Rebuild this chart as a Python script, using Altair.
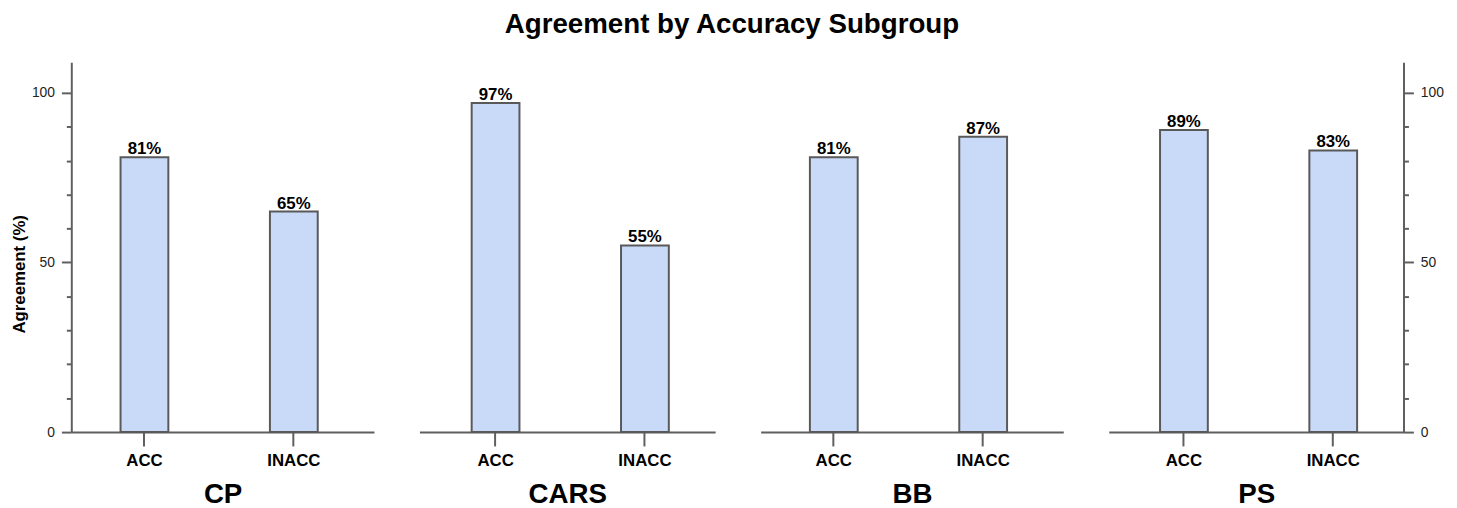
import altair as alt
import pandas as pd

# ---- data ----
groups = ["CP", "CARS", "BB", "PS"]
subgroups = ["ACC", "INACC"]
acc_values = [81, 97, 81, 89]
inacc_values = [65, 55, 87, 83]

rows = []
for g, a, b in zip(groups, acc_values, inacc_values):
    rows.append({"group": g, "sub": "ACC", "value": a, "label": f"{a}%"})
    rows.append({"group": g, "sub": "INACC", "value": b, "label": f"{b}%"})
df = pd.DataFrame(rows)

FONT = "Liberation Sans"
AXIS_COLOR = "#5f5f5f"
BAR_FILL = "#c9daf8"
PLOT_H = 374
Y_MAX = 109

# per-panel layout: width, paddingOuter, align
layout = [
    (306, 0.353, 0.467),
    (299, 0.330, 0.530),
    (306, 0.353, 0.467),
    (298, 0.327, 0.525),
]


def y_axis(kind):
    if kind == "none":
        return alt.Axis(domain=False, ticks=False, labels=False, title="", grid=False)
    return alt.Axis(
        orient=kind,
        title="Agreement (%)" if kind == "left" else "",
        titleFontSize=17,
        titleFontWeight="bold",
        titleColor="black",
        titleFont=FONT,
        titlePadding=3,
        titleY=214,
        values=list(range(0, 101, 10)),
        labelExpr="datum.value % 50 === 0 ? datum.label : ''",
        labelFontSize=14,
        labelFont=FONT,
        labelColor="#222222",
        labelPadding=7,
        tickSize={"condition": {"test": "datum.value % 50 === 0", "value": 10}, "value": 5},
        tickColor=AXIS_COLOR,
        tickWidth=2,
        domainColor=AXIS_COLOR,
        domainWidth=2,
        grid=False,
    )


panels = []
for i, g in enumerate(groups):
    w, po, al = layout[i]
    kind = "left" if i == 0 else ("right" if i == len(groups) - 1 else "none")
    base = alt.Chart(df[df["group"] == g])
    x = alt.X(
        "sub:N",
        sort=subgroups,
        scale=alt.Scale(paddingInner=0.68, paddingOuter=po, align=al),
        axis=alt.Axis(
            title=g,
            titleFontSize=28,
            titleFontWeight="bold",
            titleFont=FONT,
            titleColor="black",
            titlePadding=12,
            labelAngle=0,
            labelFontSize=17,
            labelFontWeight="bold",
            labelFont=FONT,
            labelColor="black",
            labelPadding=7,
            tickSize=14,
            tickColor=AXIS_COLOR,
            tickWidth=2,
            domainColor=AXIS_COLOR,
            domainWidth=2,
        ),
    )
    y = alt.Y(
        "value:Q",
        scale=alt.Scale(domain=[0, Y_MAX], nice=False),
        axis=y_axis(kind),
    )
    bars = base.mark_bar(fill=BAR_FILL, stroke="#595959", strokeWidth=2).encode(x=x, y=y)
    text = base.mark_text(
        font=FONT, fontSize=17, fontWeight="bold", baseline="alphabetic", dy=-3, color="black"
    ).encode(x=x, y=y, text="label:N")
    panels.append(alt.layer(bars, text).properties(width=w, height=PLOT_H))

chart = (
    alt.hconcat(*panels, spacing=44)
    .properties(
        title=alt.TitleParams(
            "Agreement by Accuracy Subgroup",
            fontSize=28,
            fontWeight="bold",
            font=FONT,
            color="black",
            anchor="middle",
            offset=23,
            dx=5,
        ),
        padding={"left": 2, "top": 0, "right": 5, "bottom": 0},
    )
    .configure_view(stroke="transparent")
)

chart.save("out.html", embed_options={"renderer": "svg", "actions": False})
